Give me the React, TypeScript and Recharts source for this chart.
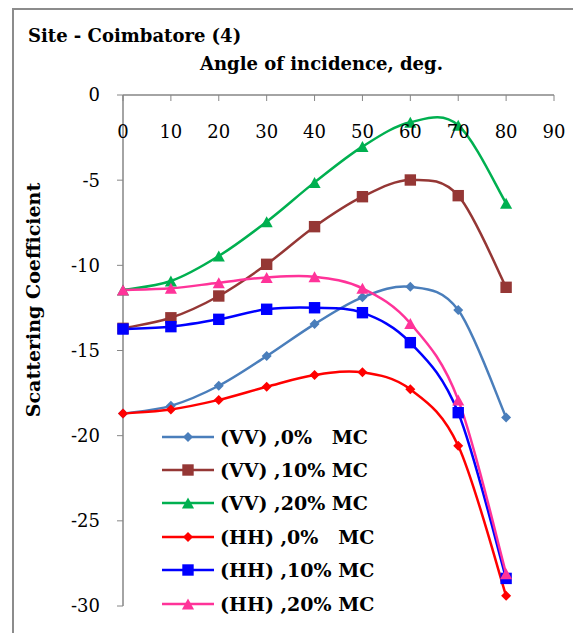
import React from "react";
import { LineChart, Line, XAxis, YAxis, Legend } from "recharts";

// values
const angles = [0, 10, 20, 30, 40, 50, 60, 70, 80];
const vv0 = [-18.7, -18.25, -17.07, -15.33, -13.45, -11.88, -11.26, -12.62, -18.93];
const vv10 = [-13.7, -13.08, -11.8, -9.94, -7.73, -5.97, -4.99, -5.91, -11.29];
const vv20 = [-11.45, -10.92, -9.45, -7.44, -5.13, -3.03, -1.6, -1.78, -6.36];
const hh0 = [-18.7, -18.46, -17.9, -17.13, -16.44, -16.28, -17.28, -20.59, -29.4];
const hh10 = [-13.74, -13.6, -13.17, -12.58, -12.49, -12.78, -14.54, -18.65, -28.38];
const hh20 = [-11.45, -11.35, -11.02, -10.71, -10.67, -11.35, -13.41, -17.9, -28.1];

const xTicks = [0, 10, 20, 30, 40, 50, 60, 70, 80, 90];
const yTicks = [0, -5, -10, -15, -20, -25, -30];

const data = angles.map((a, i) => ({
  angle: a,
  vv0: vv0[i],
  vv10: vv10[i],
  vv20: vv20[i],
  hh0: hh0[i],
  hh10: hh10[i],
  hh20: hh20[i],
}));

const SERIES = [
  { key: "vv0", name: "(VV) ,0%   MC", color: "#4A7EBB", shape: "diamond" },
  { key: "vv10", name: "(VV) ,10% MC", color: "#953735", shape: "square" },
  { key: "vv20", name: "(VV) ,20% MC", color: "#00B050", shape: "triangle" },
  { key: "hh0", name: "(HH) ,0%   MC", color: "#FF0000", shape: "diamond" },
  { key: "hh10", name: "(HH) ,10% MC", color: "#0000FF", shape: "square" },
  { key: "hh20", name: "(HH) ,20% MC", color: "#FF3399", shape: "triangle" },
];

const FONT = "DejaVu Serif";
const PLOT_TOP = 95;

// Excel-like smoothed line (Catmull-Rom through the points)
const smoothCurve = (context: any) => {
  let pts: number[][] = [];
  return {
    areaStart() {},
    areaEnd() {},
    lineStart() {
      pts = [];
    },
    point(x: number, y: number) {
      pts.push([+x, +y]);
    },
    lineEnd() {
      if (!pts.length) return;
      context.moveTo(pts[0][0], pts[0][1]);
      for (let i = 0; i < pts.length - 1; i++) {
        const p0 = pts[i - 1] || pts[i];
        const p1 = pts[i];
        const p2 = pts[i + 1];
        const p3 = pts[i + 2] || p2;
        context.bezierCurveTo(
          p1[0] + (p2[0] - p0[0]) / 6,
          p1[1] + (p2[1] - p0[1]) / 6,
          p2[0] - (p3[0] - p1[0]) / 6,
          p2[1] - (p3[1] - p1[1]) / 6,
          p2[0],
          p2[1]
        );
      }
    },
  };
};

const Marker = ({ cx, cy, shape, color, s = 1 }: any) => {
  if (cx == null || cy == null) return null;
  if (shape === "diamond") {
    const r = 5 * s;
    return (
      <polygon
        points={`${cx},${cy - r} ${cx + r},${cy} ${cx},${cy + r} ${cx - r},${cy}`}
        fill={color}
      />
    );
  }
  if (shape === "square") {
    const h = 5.7 * s;
    return <rect x={cx - h} y={cy - h} width={2 * h} height={2 * h} fill={color} />;
  }
  const h = 5.5 * s;
  return (
    <polygon
      points={`${cx},${cy - h} ${cx + h * 1.1},${cy + h} ${cx - h * 1.1},${cy + h}`}
      fill={color}
    />
  );
};

const renderXTick = (props: any) => {
  const { x, payload, index } = props;
  return (
    <g key={`xt-${index}`}>
      <line x1={x} x2={x} y1={PLOT_TOP} y2={PLOT_TOP + 6} stroke="#868686" strokeWidth={1} />
      <text x={x} y={PLOT_TOP + 43} textAnchor="middle" fontSize={18} fontFamily={FONT} fill="#000">
        {payload.value}
      </text>
    </g>
  );
};

const renderLegend = () => (
  <div style={{ fontFamily: FONT }}>
    {SERIES.map((s) => (
      <div key={s.key} style={{ display: "flex", alignItems: "center", height: 33.4 }}>
        <svg width={56} height={20} style={{ flexShrink: 0 }}>
          <line x1={2} x2={54} y1={10} y2={10} stroke={s.color} strokeWidth={2.5} />
          <Marker cx={28} cy={10} shape={s.shape} color={s.color} s={1} />
        </svg>
        <span
          style={{
            fontWeight: "bold",
            fontSize: 19,
            whiteSpace: "pre",
            marginLeft: 4,
            color: "#000",
          }}
        >
          {s.name}
        </span>
      </div>
    ))}
  </div>
);

export default function App() {
  return (
    <div
      style={{
        position: "absolute",
        left: 0,
        top: 0,
        width: 573,
        height: 633,
        overflow: "hidden",
        background: "#fff",
        fontFamily: FONT,
      }}
    >
      <div
        style={{
          position: "absolute",
          left: 12,
          top: 8,
          width: 700,
          height: 700,
          border: "2px solid #8c8c8c",
        }}
      />
      <svg
        width={573}
        height={633}
        style={{ position: "absolute", left: 0, top: 0, pointerEvents: "none" }}
        fontFamily={FONT}
        fontWeight="bold"
      >
        <text x={28} y={42} fontSize={18} fill="#000">
          Site - Coimbatore (4)
        </text>
        <text x={200} y={70} fontSize={18} fill="#000">
          Angle of incidence, deg.
        </text>
        <text
          x={40}
          y={300}
          fontSize={19}
          fill="#000"
          textAnchor="middle"
          transform="rotate(-90 40 300)"
        >
          Scattering Coefficient
        </text>
      </svg>
      <div style={{ position: "absolute", left: 0, top: 0 }}>
        <LineChart
          width={573}
          height={633}
          data={data}
          margin={{ top: PLOT_TOP - 1, right: 19, bottom: 27, left: 63 }}
        >
          <XAxis
            dataKey="angle"
            type="number"
            orientation="top"
            domain={[0, 90]}
            ticks={xTicks}
            height={1}
            axisLine={{ stroke: "#868686", strokeWidth: 1.5 }}
            tickLine={false}
            tick={renderXTick}
            interval={0}
          />
          <YAxis
            type="number"
            domain={[-30, 0]}
            ticks={yTicks}
            width={60}
            interval={0}
            axisLine={{ stroke: "#868686", strokeWidth: 1.5 }}
            tickLine={{ stroke: "#868686" }}
            tickSize={6}
            tickMargin={17}
            tick={{ fontSize: 18, fill: "#000", fontFamily: FONT }}
          />
          <Legend
            layout="vertical"
            align="center"
            verticalAlign="middle"
            content={renderLegend}
            wrapperStyle={{ left: 160, top: 420, width: 270 }}
          />
          {SERIES.map((s) => (
            <Line
              key={s.key}
              dataKey={s.key}
              name={s.name}
              type={smoothCurve as any}
              stroke={s.color}
              strokeWidth={2.5}
              dot={(p: any) => <Marker key={`${s.key}-${p.index}`} cx={p.cx} cy={p.cy} shape={s.shape} color={s.color} />}
              activeDot={false}
              isAnimationActive={false}
            />
          ))}
        </LineChart>
      </div>
    </div>
  );
}
